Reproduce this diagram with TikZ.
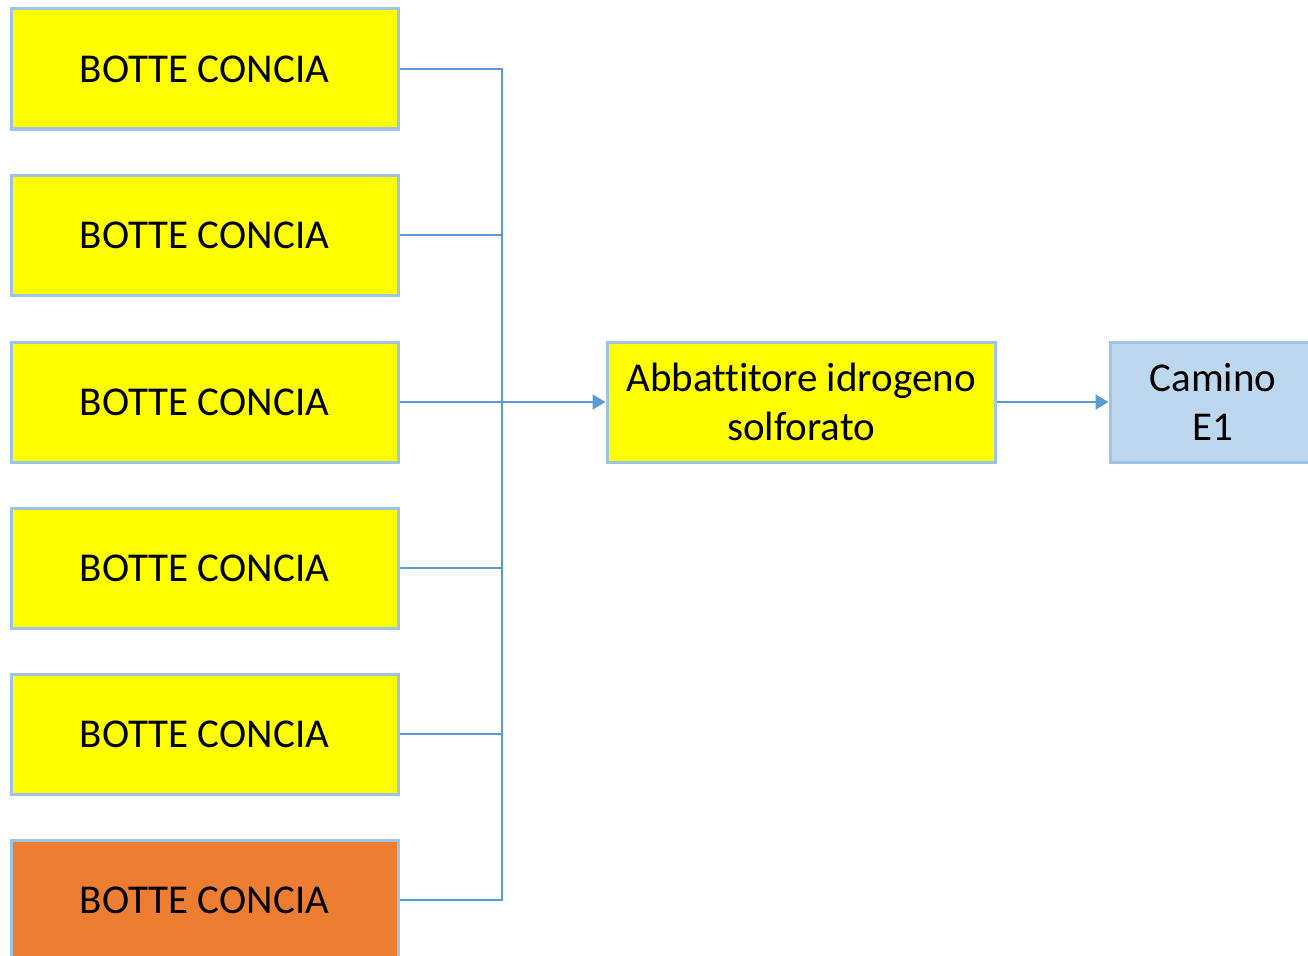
\documentclass[tikz,border=0pt]{standalone}
\usepackage{fontspec}
\setmainfont[Ligatures=NoCommon]{Carlito}
\usetikzlibrary{arrows.meta}
\definecolor{boxyellow}{HTML}{FFFF00}
\definecolor{boxorange}{HTML}{ED7D31}
\definecolor{boxblue}{HTML}{BDD7EE}
\definecolor{edgeblue}{HTML}{9DC3E6}
\definecolor{linkblue}{HTML}{5B9BD5}
\tikzset{
  unit/.style={draw=edgeblue, line width=3pt, minimum width=387pt, minimum height=120pt,
    inner sep=0pt, align=center, font=\fontsize{41}{49}\selectfont, text=black},
  botte/.style={unit, fill=boxyellow},
  link/.style={draw=linkblue, line width=2pt},
  flow/.style={link, -{Triangle[length=13pt,width=15pt]}}
}
\begin{document}
\begin{tikzpicture}[x=1pt,y=-1pt]
  \useasboundingbox (0,0) rectangle (1308,955);
  \clip (0,0) rectangle (1308,955);
  \fill[white] (0,0) rectangle (1308,955);

  % tanning drums
  \node[botte] (b1) at (204.5,69)  {BOTTE CONCIA};
  \node[botte] (b2) at (204.5,235) {BOTTE CONCIA};
  \node[botte] (b3) at (204.5,402) {BOTTE CONCIA};
  \node[botte] (b4) at (204.5,568) {BOTTE CONCIA};
  \node[botte] (b5) at (204.5,734) {BOTTE CONCIA};
  \node[unit, fill=boxorange] (b6) at (204.5,900) {BOTTE CONCIA};

  % scrubber and stack
  \node[botte, minimum width=388pt] (abb) at (801,402) {Abbattitore idrogeno\\solforato};
  \node[unit, fill=boxblue, minimum width=206pt] (cam) at (1213,402) {Camino\\E1};

  % collector
  \coordinate (bus) at (502,402);
  \foreach \b in {b1,b2,b3,b4,b5,b6}
    \draw[link] (\b.east) -| (bus);
  \draw[flow] (bus) -- (abb.west);
  \draw[flow] (abb.east) -- (cam.west);
\end{tikzpicture}
\end{document}
